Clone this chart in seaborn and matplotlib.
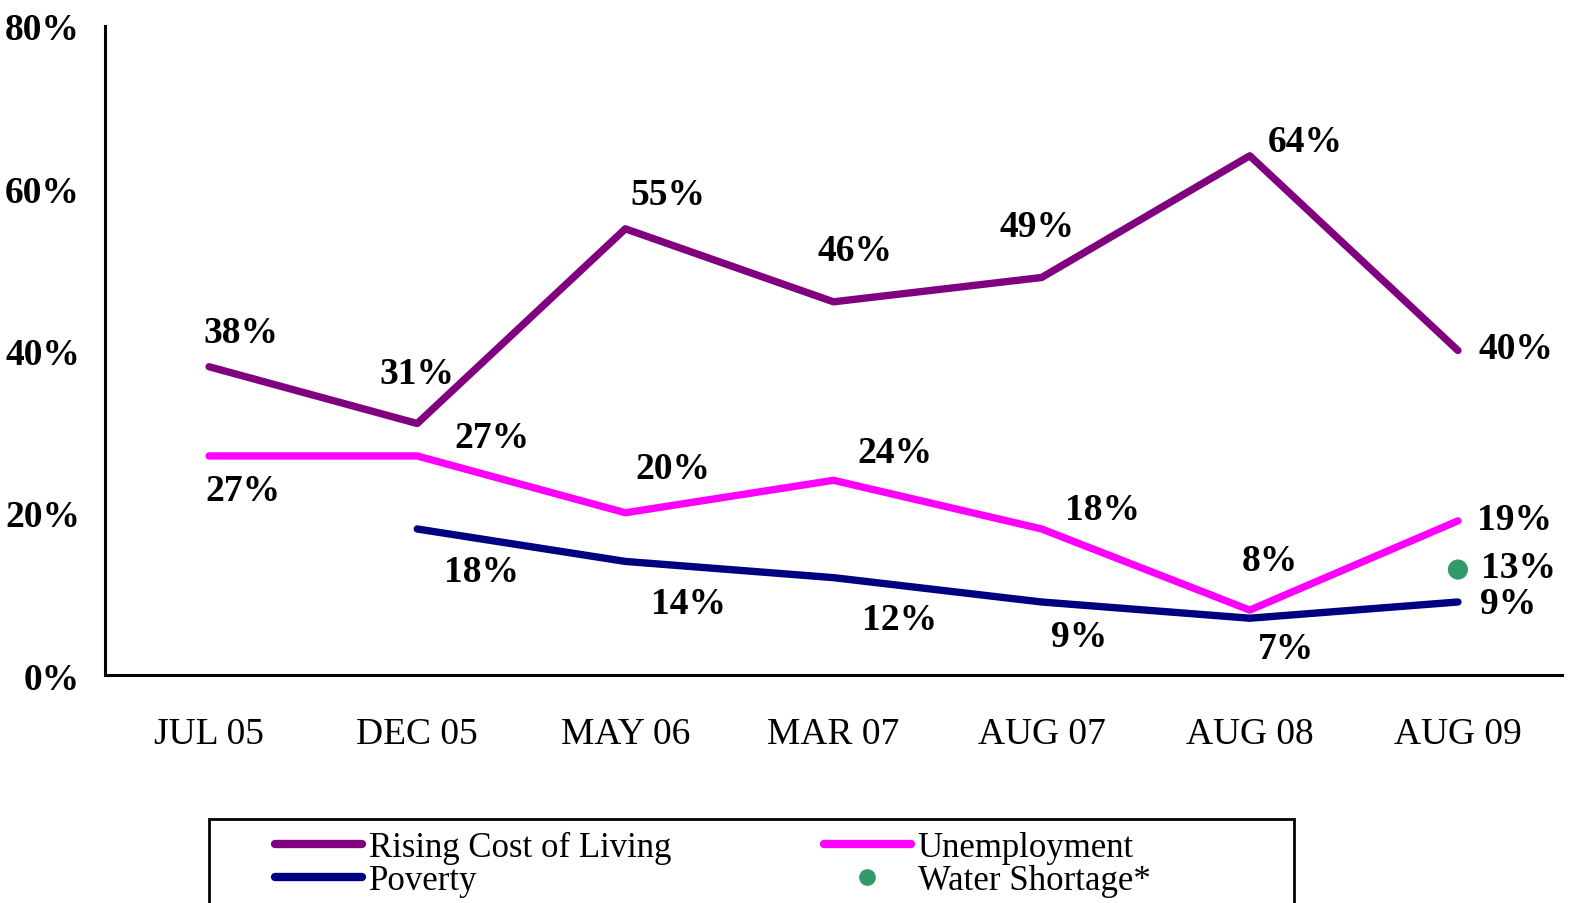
import numpy as np
import pandas as pd
import matplotlib
matplotlib.use("Agg")
import matplotlib.pyplot as plt
from matplotlib.lines import Line2D
from matplotlib.patches import Rectangle
import seaborn as sns

# ---- data ----
categories = ["JUL 05", "DEC 05", "MAY 06", "MAR 07", "AUG 07", "AUG 08", "AUG 09"]
rising_cost = [38, 31, 55, 46, 49, 64, 40]
unemployment = [27, 27, 20, 24, 18, 8, 19]
poverty = [np.nan, 18, 14, 12, 9, 7, 9]
water_shortage = [np.nan, np.nan, np.nan, np.nan, np.nan, np.nan, 13]
y_ticks = [0, 20, 40, 60, 80]

series_names = ["Rising Cost of Living", "Unemployment", "Poverty"]
colors = {"Rising Cost of Living": "#800080", "Unemployment": "#FF00FF", "Poverty": "#000080"}
water_color = "#339966"

rows = []
for name, vals in zip(series_names, [rising_cost, unemployment, poverty]):
    for i, v in enumerate(vals):
        if not np.isnan(v):
            rows.append({"pos": i, "series": name, "value": v})
df = pd.DataFrame(rows)
wdf = pd.DataFrame({"pos": np.arange(len(categories)), "value": water_shortage}).dropna()

sns.set_style("white")
plt.rcParams["font.family"] = ["Liberation Serif", "DejaVu Serif"]
plt.rcParams["text.color"] = "black"
plt.rcParams["xtick.color"] = "black"
plt.rcParams["ytick.color"] = "black"
plt.rcParams["xtick.labelcolor"] = "black"
plt.rcParams["ytick.labelcolor"] = "black"

fig = plt.figure(figsize=(15.78, 9.04), dpi=100)
ax = fig.add_axes([105 / 1578, 1 - 676 / 904, (1562 - 105) / 1578, (676 - 27) / 904])

sns.lineplot(data=df, x="pos", y="value", hue="series", palette=colors,
             hue_order=series_names, linewidth=5.3, ax=ax, legend=False,
             solid_capstyle="round")
sns.scatterplot(data=wdf, x="pos", y="value", color=water_color, s=210,
                edgecolor="none", ax=ax, legend=False, zorder=5)

FS = 27
# data labels (offsets in pixels, style only)
label_offsets = {
    "Rising Cost of Living": [(32, 34), (0, 50), (43, 34), (22, 51), (-5, 51), (55, 14), (58, 2)],
    "Unemployment": [(34, -35), (75, 18), (48, 44), (61, 28), (61, 19), (20, 50), (57, 1)],
    "Poverty": [None, (64, -43), (63, -42), (66, -42), (37, -35), (36, -30), (50, -2)],
}
for name, vals in zip(series_names, [rising_cost, unemployment, poverty]):
    for i, v in enumerate(vals):
        if np.isnan(v):
            continue
        ax.annotate(f"{v:.0f}%", (i, v), xytext=label_offsets[name][i],
                    textcoords="offset pixels", ha="center", va="center",
                    fontsize=FS, fontweight="bold", color="black")
for i, v in wdf[["pos", "value"]].itertuples(index=False):
    ax.annotate(f"{v:.0f}%", (i, v), xytext=(61, 2), textcoords="offset pixels",
                ha="center", va="center", fontsize=FS, fontweight="bold", color="black")

ax.set_xlim(-0.5, len(categories) - 0.5)
ax.set_ylim(0, 80)
ax.set_yticks(y_ticks)
ax.set_yticklabels([f"{t}%" for t in y_ticks], fontsize=FS, fontweight="bold")
ax.set_xticks(np.arange(len(categories)))
ax.set_xticklabels(categories, fontsize=FS)
ax.set_xticks(np.arange(-0.5, len(categories)), minor=True)
ax.tick_params(axis="x", which="major", length=0, pad=30)
ax.tick_params(axis="x", which="minor", length=9, width=2, direction="out", color="black")
ax.tick_params(axis="y", which="major", length=8, width=2, direction="out", color="black", pad=10)
ax.set_xlabel("")
ax.set_ylabel("")
for s in ["top", "right"]:
    ax.spines[s].set_visible(False)
for s in ["left", "bottom"]:
    ax.spines[s].set_color("black")
    ax.spines[s].set_linewidth(2.2)

# legend
handles = [
    Line2D([], [], color=colors["Rising Cost of Living"], lw=6, solid_capstyle="round"),
    Line2D([], [], color=colors["Poverty"], lw=6, solid_capstyle="round"),
    Line2D([], [], color=colors["Unemployment"], lw=6, solid_capstyle="round"),
    Line2D([], [], color=water_color, lw=0, marker="o", markersize=11),
]
labels = ["Rising Cost of Living", "Poverty", "Unemployment", "Water Shortage*"]
fig.legend(handles, labels, loc="upper left", bbox_to_anchor=(275 / 1578, 1 - 832 / 904),
           ncol=2, frameon=False, fontsize=25, handlelength=2.5, handletextpad=0.2,
           columnspacing=4.4, labelspacing=0.0, borderpad=0, borderaxespad=0)
fig.patches.append(Rectangle((209 / 1578, -0.05), (1294 - 209) / 1578, 0.05 + (1 - 820 / 904),
                             transform=fig.transFigure, fill=False, edgecolor="black",
                             linewidth=2))

fig.savefig("out.png", dpi=100)
